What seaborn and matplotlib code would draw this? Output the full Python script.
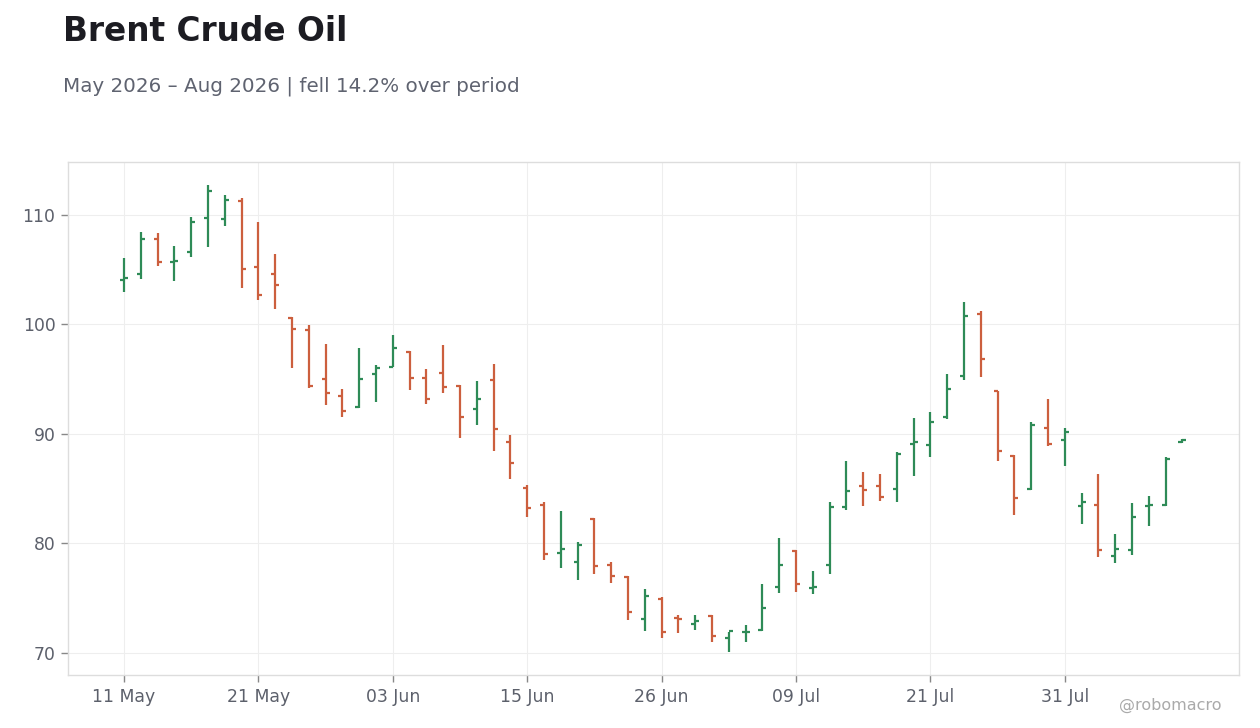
import numpy as np
import pandas as pd
import matplotlib
matplotlib.use("Agg")
import matplotlib.pyplot as plt
import seaborn as sns

# ---- data ----
holidays = ["2026-05-25", "2026-06-19", "2026-07-03"]
dates = pd.bdate_range("2026-05-11", "2026-08-11", freq="C", holidays=holidays)

open_ = [104.05, 104.6, 107.8, 105.7, 106.6, 109.7, 109.6, 111.25, 105.2, 104.6,
         100.55, 99.5, 95.0, 93.45, 92.45, 95.45, 96.1, 97.5, 95.1, 95.55,
         94.35, 92.25, 94.9, 89.25, 85.05, 83.55, 79.15, 78.3, 82.2, 78.05,
         76.95, 73.15, 74.95, 73.2, 72.65, 73.4, 71.35, 71.9, 72.1, 76.0,
         79.35, 75.95, 78.05, 83.3, 85.2, 85.2, 84.95, 89.1, 88.95, 91.55,
         95.3, 100.95, 93.9, 88.0, 84.95, 90.5, 89.45, 83.4, 83.55, 78.9,
         79.4, 83.4, 83.55, 89.3]
high = [106.0, 108.4, 108.3, 107.1, 109.8, 112.7, 111.8, 111.5, 109.3, 106.4,
        100.7, 99.9, 98.2, 94.05, 97.8, 96.25, 99.0, 97.6, 95.9, 98.1,
        94.5, 94.8, 96.35, 89.85, 85.3, 83.8, 83.0, 80.1, 82.35, 78.3,
        77.05, 75.85, 75.1, 73.45, 73.45, 73.45, 71.9, 72.55, 76.3, 80.5,
        79.4, 77.5, 83.8, 87.55, 86.5, 86.3, 88.3, 91.4, 91.95, 95.5,
        102.0, 101.2, 93.9, 88.05, 91.05, 93.15, 90.55, 84.6, 86.3, 80.9,
        83.7, 84.35, 87.9, 89.5]
low = [102.9, 104.1, 105.3, 103.95, 106.15, 107.0, 109.0, 103.3, 102.2, 101.4,
       96.0, 94.2, 92.6, 91.55, 92.4, 92.9, 96.1, 94.0, 92.7, 93.7,
       89.6, 90.8, 88.45, 85.9, 82.4, 78.45, 77.8, 76.7, 77.25, 76.4,
       73.05, 72.05, 71.4, 71.85, 72.1, 71.05, 70.1, 71.05, 72.05, 75.45,
       75.6, 75.35, 77.25, 83.05, 83.4, 83.85, 83.75, 86.15, 87.9, 91.35,
       94.9, 95.2, 87.5, 82.6, 84.85, 88.9, 87.05, 81.8, 78.75, 78.2,
       78.95, 81.55, 83.4, 89.2]
close = [104.2, 107.8, 105.7, 105.8, 109.35, 112.15, 111.35, 105.05, 102.65, 103.55,
         99.6, 94.35, 93.7, 92.1, 95.0, 96.0, 97.85, 95.1, 93.2, 94.3,
         91.55, 93.2, 90.45, 87.3, 83.2, 79.05, 79.5, 79.85, 77.9, 77.05,
         73.75, 75.25, 71.95, 73.1, 72.95, 71.6, 72.0, 71.95, 74.15, 78.0,
         76.3, 76.0, 83.3, 84.8, 84.9, 84.2, 88.15, 89.25, 91.05, 94.1,
         100.75, 96.85, 88.4, 84.15, 90.8, 89.05, 90.15, 83.75, 79.4, 79.45,
         82.4, 83.55, 87.75, 89.4]

yticks = [70, 80, 90, 100, 110]

df = pd.DataFrame({"date": dates, "open": open_, "high": high, "low": low, "close": close})
df["pos"] = np.arange(len(df))
df["dir"] = np.where(df["close"] >= df["open"], "up", "down")

GREEN = "#2E8B57"
RED = "#CC5F3E"
palette = {"up": GREEN, "down": RED}

# ---- style ----
sns.set_theme(style="white")
plt.rcParams["font.family"] = ["DejaVu Sans"]

fig = plt.figure(figsize=(12.6, 7.28), dpi=100)
ax = fig.add_axes([68 / 1260, 1 - 675 / 728, (1239 - 68) / 1260, (675 - 162) / 728])

tick = 0.24
for d, sub in df.groupby("dir"):
    c = palette[d]
    ax.vlines(sub["pos"], sub["low"], sub["high"], color=c, lw=1.6, zorder=3)
    ax.hlines(sub["open"], sub["pos"] - tick, sub["pos"], color=c, lw=1.6, zorder=3)
    ax.hlines(sub["close"], sub["pos"], sub["pos"] + tick, color=c, lw=1.6, zorder=3)

ax.set_xlim(-3.33, 66.37)
ax.set_ylim(68.0, 114.8)
ax.set_yticks(yticks)
ax.set_yticklabels([str(v) for v in yticks])
xt = df["pos"].values[::8]
ax.set_xticks(xt)
ax.set_xticklabels([d.strftime("%d %b") for d in df["date"].iloc[::8]])

ax.grid(True, color="#EEEEEE", lw=0.8, zorder=0)
for s in ax.spines.values():
    s.set_color("#DDDDDD")
    s.set_linewidth(1.0)
ax.tick_params(axis="both", colors="#5C606B", labelsize=12.4, length=5, width=1,
               direction="out", bottom=True, left=True, pad=4)
ax.tick_params(axis="both", color="#888888")
ax.set_xlabel("")
ax.set_ylabel("")

fig.text(63 / 1260, 1 - 41 / 728, "Brent Crude Oil", fontsize=23.6, fontweight="bold",
         color="#1C1C22", ha="left", va="baseline")
fig.text(63 / 1260, 1 - 92 / 728, "May 2026 \u2013 Aug 2026 | fell 14.2% over period",
         fontsize=14.3, color="#5F6370", ha="left", va="baseline")
fig.text(1222 / 1260, 1 - 710 / 728, "@robomacro", fontsize=11.5, color="#AAAAAA",
         ha="right", va="baseline")

fig.savefig("out.png", dpi=100, facecolor="white")
